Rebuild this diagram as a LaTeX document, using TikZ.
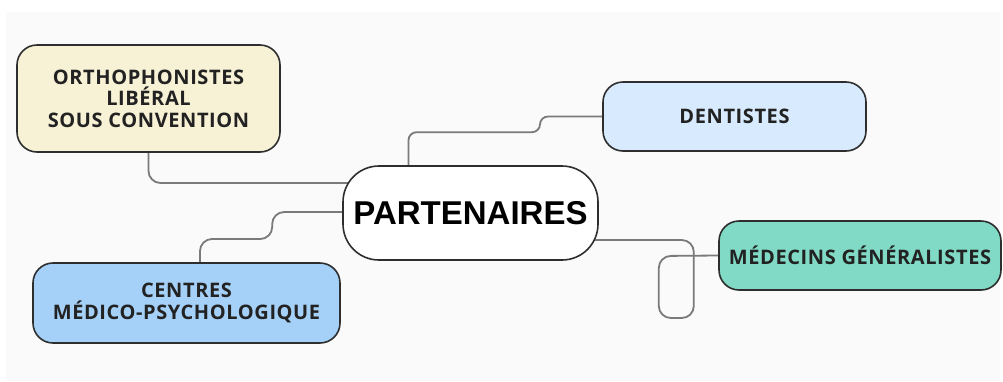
\documentclass[tikz,border=0pt]{standalone}
\usepackage{fontspec}
\setmainfont{Open Sans}[LetterSpace=3]
\newfontfamily\bigfont{Liberation Sans}
\usetikzlibrary{backgrounds}
\definecolor{bggray}{HTML}{FAFAFA}
\definecolor{cream}{HTML}{F7F1D5}
\definecolor{paleblue}{HTML}{D7EAFE}
\definecolor{midblue}{HTML}{A5D1F8}
\definecolor{teal}{HTML}{80DAC5}
\definecolor{edge}{HTML}{2E2E2E}
\definecolor{linegray}{HTML}{7A7A7A}
\definecolor{txt}{HTML}{222222}
\tikzset{
  leaf/.style={draw=edge, line width=1.6pt, rounded corners=20pt, inner sep=0pt,
    align=center, text=txt, font=\bfseries\fontsize{20}{21.5}\selectfont},
  hub/.style={draw=edge, line width=1.6pt, rounded corners=36pt, inner sep=0pt,
    fill=white, text=black, font=\bigfont\bfseries\fontsize{33}{36}\selectfont},
  conn/.style={draw=linegray, line width=1.8pt, rounded corners=12pt}
}
\begin{document}
\begin{tikzpicture}[x=1pt,y=-1pt]
\useasboundingbox (0,0) rectangle (1003,381);

\node[hub, minimum width=255pt, minimum height=94pt] (part) at (470.5,213) {PARTENAIRES};
\node[leaf, fill=cream, minimum width=263pt, minimum height=107pt] (ortho) at (148.5,98.5)
  {ORTHOPHONISTES\\LIBÉRAL\\SOUS CONVENTION};
\node[leaf, fill=paleblue, minimum width=263pt, minimum height=69pt] (dent) at (734.5,116.5) {DENTISTES};
\node[leaf, fill=teal, minimum width=282pt, minimum height=69pt] (med) at (860,255.5) {MÉDECINS GÉNÉRALISTES};
\node[leaf, fill=midblue, minimum width=307pt, minimum height=80pt] (cent) at (186.5,303)
  {CENTRES\\MÉDICO-PSYCHOLOGIQUE};

\begin{pgfonlayer}{background}
\fill[white] (0,0) rectangle (1003,381);
\fill[bggray] (6,12) rectangle (1000,381);
\draw[conn] (ortho.south) |- ([xshift=40pt,yshift=30pt]part.west);
\draw[conn, rounded corners=8pt] ([xshift=-62pt]part.north) |- ++(131.5,-33) |- (dent.west);
\draw[conn] ([xshift=20pt,yshift=1pt]part.west) -| ++(-90,27) -| ([xshift=13.5pt]cent.north);
\draw[conn] ([xshift=-10pt,yshift=-27pt]part.east) -| ++(105,78) -| ++(-35,-62) -- (med.west);
\end{pgfonlayer}
\end{tikzpicture}
\end{document}
